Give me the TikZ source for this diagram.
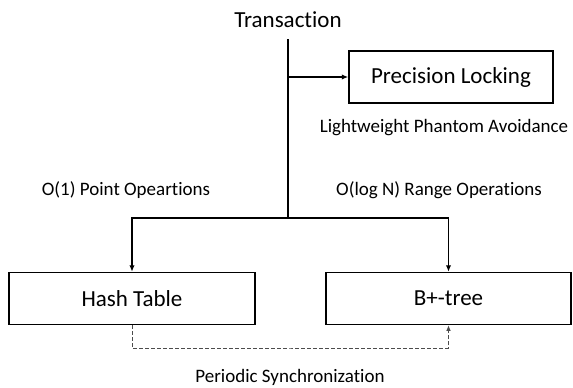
\documentclass[tikz,border=0pt]{standalone}
\usepackage{fontspec}
\setmainfont{Carlito}[Ligatures=NoCommon]
\usepackage{tikz}
\usetikzlibrary{arrows.meta}

\begin{document}
\begin{tikzpicture}[x=1pt, y=-1pt,
		box/.style={draw, line width=1.5pt, inner sep=0pt, minimum height=52pt, font=\fontsize{23}{28}\selectfont},
		note/.style={inner sep=0pt, font=\fontsize{19}{23}\selectfont},
		conn/.style={line width=1.4pt},
		tip/.style={-{Latex[length=6.5pt,width=5.5pt]}},
		sync/.style={line width=0.8pt, draw=black!70, dash pattern=on 4pt off 2pt, -{Latex[length=5.5pt,width=4.5pt]}}]
				\useasboundingbox (0,0) rectangle (573,388);
				
				\node[inner sep=0pt, font=\fontsize{23}{28}\selectfont] (trans) at (288,20) {Transaction};
				\node[box, minimum width=204pt] (lock) at (451,77) {Precision Locking};
				\node[box, minimum width=246pt] (hash) at (132,298.5) {Hash Table};
				\node[box, minimum width=245pt] (btree) at (448.5,298.5) {B+-tree};
				
				\node[note] (phantom) at (444,128) {Lightweight Phantom Avoidance};
				\node[note] (pointops) at (126,190) {O(1) Point Opeartions};
				\node[note] (rangeops) at (439,190) {O(log N) Range Operations};
				\node[note] (periodic) at (290,377) {Periodic Synchronization};
				
				\coordinate (top) at (288,39);
				\coordinate (split) at (288,218);
				\coordinate (syncrow) at (290,348);
				
				\draw[conn] (top) -- (split);
				\draw[conn, tip] (top |- lock.west) -- (lock.west);
				\draw[conn, tip] (split) -| (hash.north);
				\draw[conn, tip] (split) -| (btree.north);
				
				\draw[sync] (hash.south) |- (syncrow) -| (btree.south);
			\end{tikzpicture}
\end{document}
